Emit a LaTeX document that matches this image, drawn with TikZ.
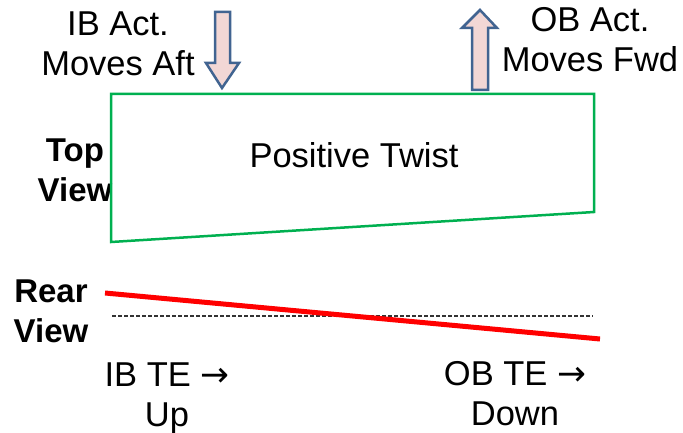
\documentclass[tikz,border=0pt]{standalone}
\usepackage{fontspec}
\setmainfont{Liberation Sans}
\newfontfamily\arrowfont{DejaVu Sans}
\definecolor{boxgreen}{RGB}{0,176,80}
\definecolor{arrowedge}{RGB}{65,100,145}
\definecolor{arrowfill}{RGB}{242,215,213}
\tikzset{
  lbl/.style={anchor=base,align=center,inner sep=0pt,font=\fontsize{34.5}{40}\selectfont},
  bold lbl/.style={lbl,font=\fontsize{33}{40}\selectfont\bfseries},
  blockarrow/.style={draw=arrowedge,fill=arrowfill,line width=2.5pt,line join=miter}
}
\begin{document}
\begin{tikzpicture}[x=1pt,y=1pt]
            \useasboundingbox (0,0) rectangle (683,432);
            \node[lbl] (ibact) at (118,356) {IB Act.\\Moves Aft};
            \node[lbl] (obact) at (590,360) {OB Act.\\Moves Fwd};
            \node[lbl] (twist) at (354,265) {Positive Twist};
            \node[bold lbl] (topview) at (75,231) {Top\\View};
            \node[bold lbl] (rearview) at (51,90) {Rear\\View};
            \node[lbl] (ibte) at (167,6) {IB TE {\arrowfont →}\\Up};
            \node[lbl] (obte) at (515,7) {OB TE {\arrowfont →}\\Down};
            \coordinate (wing1) at (111,338);
            \coordinate (wing2) at (594,338);
            \coordinate (wing3) at (594,220);
            \coordinate (wing4) at (111,190);
            \coordinate (te1) at (105,139);
            \coordinate (te2) at (600,93);
            \coordinate (ref1) at (112,116);
            \coordinate (ref2) at (593,116);
            \draw[boxgreen,line width=2.5pt] (wing1) -- (wing2) -- (wing3) -- (wing4) -- cycle;
            \draw[black!80,line width=1.3pt,dash pattern=on 4pt off 2pt] (ref1) -- (ref2);
            \draw[red,line width=5pt] (te1) -- (te2);
            \draw[blockarrow] (215,420) -- (230,420) -- (230,369) -- (239,369) -- (222,344) -- (206,369) -- (215,369) -- cycle;
            \draw[blockarrow] (472,342) -- (488,342) -- (488,404) -- (497,404) -- (480,422) -- (462,404) -- (472,404) -- cycle;
\end{tikzpicture}
\end{document}
